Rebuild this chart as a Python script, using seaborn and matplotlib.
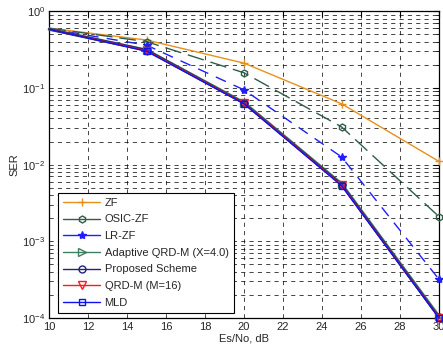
import matplotlib
matplotlib.use("Agg")
import matplotlib.pyplot as plt
import seaborn as sns
import numpy as np
import pandas as pd

# ----- Data -----
snr_db = [10, 15, 20, 25, 30]
ser_zf = [0.60, 0.42, 0.21, 0.062, 0.011]
ser_osic = [0.60, 0.40, 0.157, 0.031, 0.0021]
ser_lrzf = [0.59, 0.36, 0.094, 0.0126, 0.00032]
ser_adaptive = [0.58, 0.31, 0.064, 0.0056, 0.000105]
ser_proposed = [0.58, 0.31, 0.063, 0.0055, 0.000102]
ser_qrdm = [0.58, 0.305, 0.063, 0.0054, 0.000101]
ser_mld = [0.58, 0.30, 0.062, 0.0053, 0.0001]

labels = ["ZF", "OSIC-ZF", "LR-ZF", "Adaptive QRD-M (X=4.0)",
          "Proposed Scheme", "QRD-M (M=16)", "MLD"]
series = [ser_zf, ser_osic, ser_lrzf, ser_adaptive, ser_proposed, ser_qrdm, ser_mld]

# ----- Styles -----
styles = {
    "ZF": dict(color="#E8901C", marker="+", ls="-", lw=1.0, ms=6, mfc="none"),
    "OSIC-ZF": dict(color="#2E5E48", marker="h", ls=(0, (12, 5)), lw=1.0, ms=5, mfc="none"),
    "LR-ZF": dict(color="#1E1EFF", marker="*", ls=(0, (8, 6)), lw=1.0, ms=6, mfc="#1E1EFF"),
    "Adaptive QRD-M (X=4.0)": dict(color="#3F7F5F", marker=">", ls="-", lw=2.2, ms=6, mfc="none"),
    "Proposed Scheme": dict(color="#22227A", marker="o", ls="-", lw=1.6, ms=5, mfc="none"),
    "QRD-M (M=16)": dict(color="#FF1A1A", marker="v", ls="-", lw=1.0, ms=6, mfc="none"),
    "MLD": dict(color="#1010F0", marker="s", ls="-", lw=1.0, ms=5, mfc="none"),
}

df = pd.DataFrame({"snr": np.tile(snr_db, len(labels)),
                   "ser": np.concatenate(series),
                   "scheme": np.repeat(labels, len(snr_db))})

sns.set_style("white")
plt.rcParams["font.family"] = ["Liberation Sans", "DejaVu Sans"]
plt.rcParams["font.size"] = 8
plt.rcParams["mathtext.default"] = "regular"

fig = plt.figure(figsize=(4.43, 3.48), dpi=100)
ax = fig.add_axes([0.111, 0.086, 0.880, 0.882])

for name in labels:
    st = styles[name]
    sub = df[df["scheme"] == name]
    sns.lineplot(data=sub, x="snr", y="ser", ax=ax, color=st["color"],
                 linewidth=st["lw"], linestyle=st["ls"], marker=st["marker"],
                 markersize=st["ms"], markerfacecolor=st["mfc"],
                 markeredgecolor=st["color"], markeredgewidth=1.0,
                 markevery=[1, 2, 3, 4], label=name, clip_on=False, zorder=3)

ax.set_yscale("log")
ax.set_xlim(10, 30)
ax.set_ylim(1e-4, 1)
ax.set_xticks(range(10, 31, 2))
ax.set_yticks([1e-4, 1e-3, 1e-2, 1e-1, 1])
ax.set_yticklabels(["$10^{-4}$", "$10^{-3}$", "$10^{-2}$", "$10^{-1}$", "$10^{0}$"])
ax.yaxis.set_minor_locator(matplotlib.ticker.LogLocator(base=10, subs=np.arange(2, 10), numticks=20))
ax.yaxis.set_minor_formatter(matplotlib.ticker.NullFormatter())

ax.grid(True, which="major", axis="both", color="black", linestyle=(0, (5, 5)), linewidth=0.6, alpha=0.85)
ax.grid(True, which="minor", axis="y", color="black", linestyle=(0, (5, 5)), linewidth=0.6, alpha=0.85)
ax.set_axisbelow(True)

ax.tick_params(axis="both", which="both", direction="in", top=True, right=True, labelsize=8, color="black")
ax.tick_params(which="major", length=4, width=0.8, pad=3)
ax.tick_params(which="minor", length=2, width=0.6)
for s in ax.spines.values():
    s.set_visible(True)
    s.set_color("black")
    s.set_linewidth(0.9)

ax.set_xlabel("Es/No, dB", fontsize=8, labelpad=1)
ax.set_ylabel("SER", fontsize=8, labelpad=2)

leg = ax.legend(loc="lower left", bbox_to_anchor=(0.018, 0.01), fontsize=8,
                frameon=True, fancybox=False, edgecolor="black", framealpha=1,
                numpoints=1, handlelength=3.3, labelspacing=0.6, borderpad=0.45,
                handletextpad=0.4, borderaxespad=0.2)
leg.get_frame().set_linewidth(0.8)
for h in leg.get_lines():
    h.set_linestyle("-")
    h.set_linewidth(1.0)
leg.set_zorder(10)

fig.savefig("out.png", dpi=100)
